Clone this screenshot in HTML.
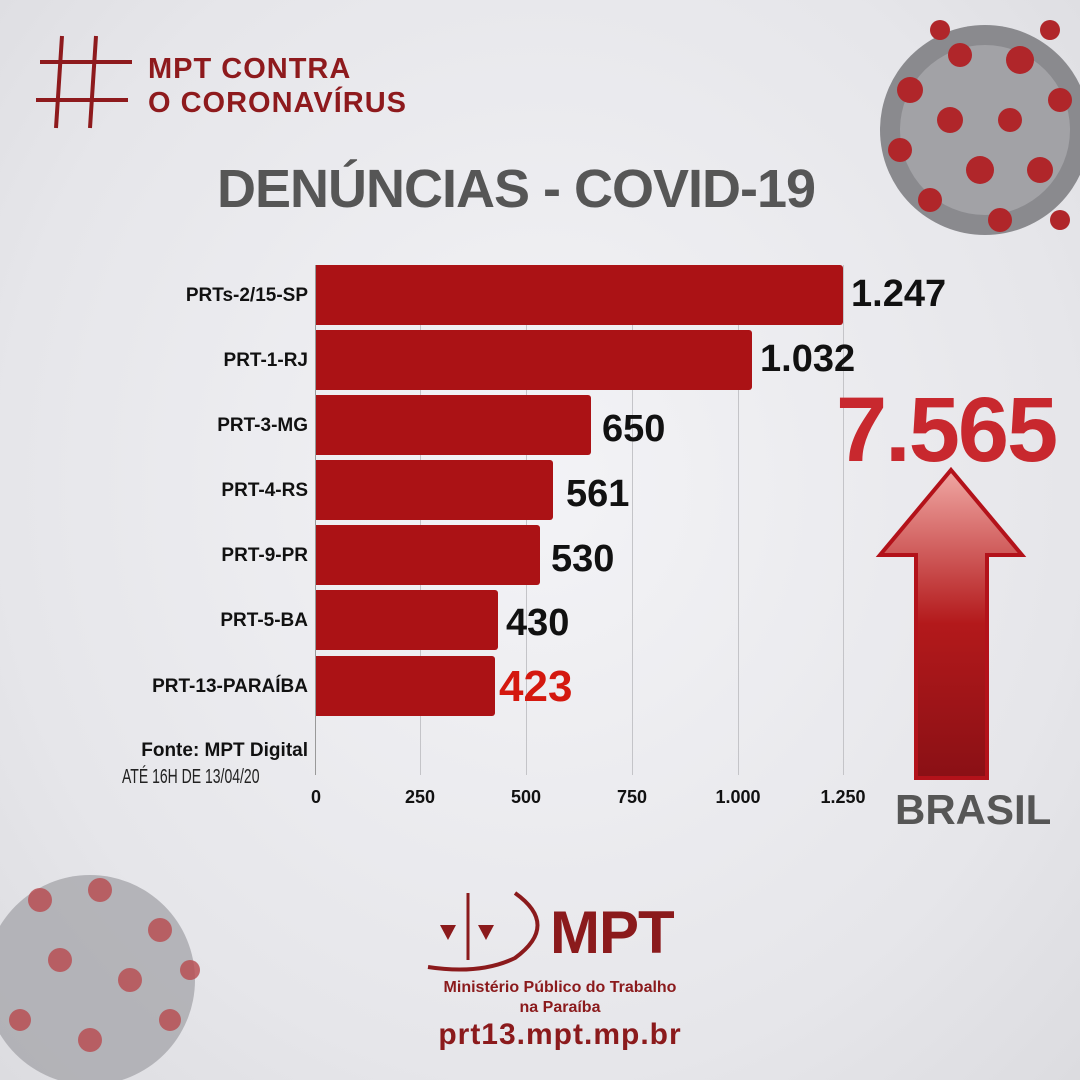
<!DOCTYPE html>
<html><head><meta charset="utf-8"><style>
body{margin:0}
#c{position:relative;width:1080px;height:1080px;overflow:hidden;background:radial-gradient(ellipse at 50% 45%,#f3f3f6 0%,#e6e6ea 70%,#dcdce0 100%);font-family:"Liberation Sans",sans-serif}
.a{position:absolute}
.bar{position:absolute;left:316px;height:60px;background:#ab1215;border-radius:0 3px 3px 0}
.lab{position:absolute;right:772px;font-weight:bold;font-size:19px;color:#111;text-align:right;white-space:nowrap}
.val{position:absolute;font-size:38px;color:#111;font-weight:bold}
.g{position:absolute;top:265px;width:1px;height:510px;background:#c4c4c8}
.t{position:absolute;top:787px;font-size:18px;font-weight:bold;color:#111;transform:translateX(-50%)}
</style></head><body><div id="c">
<svg class="a" style="left:0;top:0" width="1080" height="1080">
 <g>
  <circle cx="985" cy="130" r="105" fill="#8a8a8e"/>
  <circle cx="985" cy="130" r="85" fill="#a2a2a6"/>
  <g fill="#b0262a">
   <circle cx="910" cy="90" r="13"/><circle cx="960" cy="55" r="12"/><circle cx="1020" cy="60" r="14"/><circle cx="1060" cy="100" r="12"/>
   <circle cx="900" cy="150" r="12"/><circle cx="950" cy="120" r="13"/><circle cx="1010" cy="120" r="12"/><circle cx="980" cy="170" r="14"/>
   <circle cx="1040" cy="170" r="13"/><circle cx="930" cy="200" r="12"/><circle cx="1000" cy="220" r="12"/><circle cx="1060" cy="220" r="10"/><circle cx="940" cy="30" r="10"/><circle cx="1050" cy="30" r="10"/>
  </g>
  <circle cx="90" cy="980" r="105" fill="#a8a8ac" opacity=".8"/>
  <g fill="#b84a4e" opacity=".8">
   <circle cx="40" cy="900" r="12"/><circle cx="100" cy="890" r="12"/><circle cx="160" cy="930" r="12"/><circle cx="60" cy="960" r="12"/>
   <circle cx="130" cy="980" r="12"/><circle cx="20" cy="1020" r="11"/><circle cx="90" cy="1040" r="12"/><circle cx="170" cy="1020" r="11"/><circle cx="190" cy="970" r="10"/>
  </g>
 </g>
 <!-- hash -->
 <g stroke="#8e1a1d" stroke-width="4" fill="none">
  <path d="M62 36 L56 128 M96 36 L90 128 M40 62 L132 62 M36 100 L128 100"/>
 </g>
 <!-- arrow -->
 <defs><linearGradient id="ag" x1="0" y1="0" x2="0" y2="1"><stop offset="0" stop-color="#f0a8a4"/><stop offset=".5" stop-color="#b3191b"/><stop offset="1" stop-color="#8a1015"/></linearGradient></defs>
 <path d="M951 470 L1022 555 L987 555 L987 778 L916 778 L916 555 L880 555 Z" fill="url(#ag)" stroke="#b3121a" stroke-width="4"/>
 <!-- logo -->
 <g fill="#8b1a1c" stroke="#8b1a1c">
  <line x1="468" y1="893" x2="468" y2="960" stroke-width="3"/>
  <polygon points="440,925 456,925 448,940" stroke="none"/>
  <polygon points="478,925 494,925 486,940" stroke="none"/>
  <path d="M515 893 Q560 925 515 958 Q480 975 428 967" fill="none" stroke-width="4"/>
 </g>
</svg>
<div class="a" style="left:148px;top:52px;font-size:29px;font-weight:bold;color:#8e1a1d;letter-spacing:1px;line-height:34px">MPT CONTRA<br>O CORONAVÍRUS</div>
<div class="a" style="left:217px;top:158px;font-size:54px;font-weight:900;color:#565656;letter-spacing:-1px">DENÚNCIAS - COVID-19</div>

<div class="g" style="left:420px"></div><div class="g" style="left:526px"></div><div class="g" style="left:632px"></div><div class="g" style="left:738px"></div><div class="g" style="left:843px"></div>
<div class="a" style="left:315px;top:265px;width:1px;height:510px;background:#999"></div>

<div class="bar" style="top:265px;width:527px"></div>
<div class="bar" style="top:330px;width:436px"></div>
<div class="bar" style="top:395px;width:275px"></div>
<div class="bar" style="top:460px;width:237px"></div>
<div class="bar" style="top:525px;width:224px"></div>
<div class="bar" style="top:590px;width:182px"></div>
<div class="bar" style="top:656px;width:179px"></div>

<div class="lab" style="top:285px">PRTs-2/15-SP</div>
<div class="lab" style="top:350px">PRT-1-RJ</div>
<div class="lab" style="top:415px">PRT-3-MG</div>
<div class="lab" style="top:480px">PRT-4-RS</div>
<div class="lab" style="top:545px">PRT-9-PR</div>
<div class="lab" style="top:610px">PRT-5-BA</div>
<div class="lab" style="top:676px">PRT-13-PARAÍBA</div>

<div class="val" style="left:851px;top:273px">1.247</div>
<div class="val" style="left:760px;top:338px">1.032</div>
<div class="val" style="left:602px;top:408px">650</div>
<div class="val" style="left:566px;top:473px">561</div>
<div class="val" style="left:551px;top:538px">530</div>
<div class="val" style="left:506px;top:602px">430</div>
<div class="val" style="left:499px;top:662px;color:#d4180f;font-size:44px;font-weight:900">423</div>

<div class="lab" style="top:740px;font-size:19px">Fonte: MPT Digital</div>
<div class="a" style="left:122px;top:766px;font-size:20px;color:#222;transform:scaleX(.7);transform-origin:left">ATÉ 16H DE 13/04/20</div>

<div class="t" style="left:316px">0</div><div class="t" style="left:420px">250</div><div class="t" style="left:526px">500</div><div class="t" style="left:632px">750</div><div class="t" style="left:738px">1.000</div><div class="t" style="left:843px">1.250</div>

<div class="a" style="left:836px;top:378px;font-size:92px;font-weight:900;color:#c8282e;letter-spacing:-2px">7.565</div>
<div class="a" style="left:895px;top:786px;font-size:42px;font-weight:900;color:#565656">BRASIL</div>

<div class="a" style="left:550px;top:898px;font-size:60px;font-weight:bold;color:#8b1a1c;letter-spacing:-1px">MPT</div>
<div class="a" style="left:420px;top:978px;width:280px;text-align:center;font-size:16px;font-weight:bold;color:#8b1a1c;line-height:20px">Ministério Público do Trabalho<br>na Paraíba</div>
<div class="a" style="left:420px;top:1018px;width:280px;text-align:center;font-size:30px;font-weight:bold;color:#8b1a1c;letter-spacing:1px">prt13.mpt.mp.br</div>
</div></body></html>
